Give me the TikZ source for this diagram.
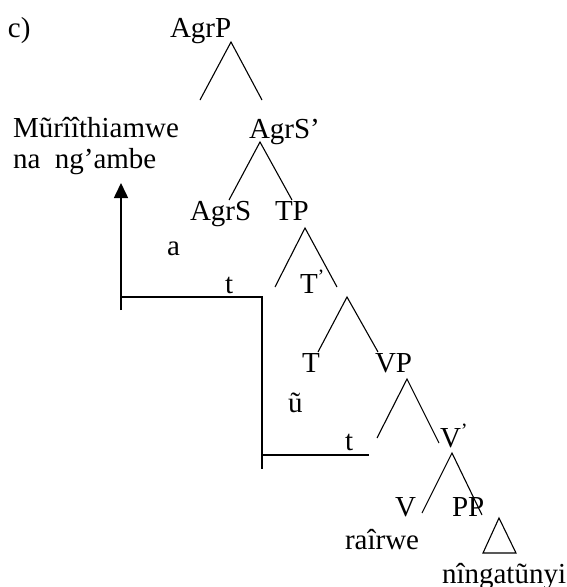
\documentclass[tikz,border=0pt]{standalone}
\usepackage{fontspec}
\setmainfont{Liberation Serif}
\usetikzlibrary{arrows.meta}
\begin{document}
\begin{tikzpicture}[x=1pt,y=-1pt,
  lbl/.style={anchor=base west,inner sep=0pt,outer sep=0pt,font=\fontsize{29}{34}\selectfont},
  branch/.style={line width=1.1pt},
  move/.style={line width=1.6pt},
  tri/.style={line width=1.1pt,line join=miter}]
\useasboundingbox (0,0) rectangle (567,587);
% labels
\node[lbl] (c) at (8,37) {c)};
\node[lbl] (agrp) at (170,37) {AgrP};
\node[lbl] (subj1) at (13,137) {Mũrîîthiamwe};
\node[lbl] (subj2) at (13,168) {na\ \ ng’ambe};
\node[lbl] (agrsbar) at (249,138) {AgrS’};
\node[lbl] (agrs) at (190,220) {AgrS};
\node[lbl] (tp) at (275,220) {TP};
\node[lbl] (a) at (167,255) {a};
\node[lbl] (t1) at (225,293) {t};
\node[lbl] (tbar) at (300,293) {T\textsuperscript{’}};
\node[lbl] (t) at (302,372) {T};
\node[lbl] (vp) at (375,372) {VP};
\node[lbl] (u) at (288,412) {ũ};
\node[lbl] (t2) at (345,450) {t};
\node[lbl] (vbar) at (440,447) {V\textsuperscript{’}};
\node[lbl] (v) at (395,516) {V};
\node[lbl] (pp) at (452,516) {PP};
\node[lbl] (verb) at (345,549) {raîrwe};
\node[lbl] (obj) at (442,583) {nîngatũnyi};
% branch coordinates
\coordinate (p0) at (231,42);
\coordinate (p0l) at (200,100);
\coordinate (p0r) at (262,100);
\coordinate (p1) at (260,142);
\coordinate (p1l) at (229,200);
\coordinate (p1r) at (292,200);
\coordinate (p2) at (305,228);
\coordinate (p2l) at (275,287);
\coordinate (p2r) at (337,287);
\coordinate (p3) at (347,297);
\coordinate (p3l) at (318,352);
\coordinate (p3r) at (378,352);
\coordinate (p4) at (407,379);
\coordinate (p4l) at (377,438);
\coordinate (p4r) at (439,443);
\coordinate (p5) at (452,453);
\coordinate (p5l) at (422,513);
\coordinate (p5r) at (482,515);
\draw[branch] (p0l) -- (p0) -- (p0r);
\draw[branch] (p1l) -- (p1) -- (p1r);
\draw[branch] (p2l) -- (p2) -- (p2r);
\draw[branch] (p3l) -- (p3) -- (p3r);
\draw[branch] (p4l) -- (p4) -- (p4r);
\draw[branch] (p5l) -- (p5) -- (p5r);
% triangle
\coordinate (ta) at (499,518);
\coordinate (tl) at (483,553);
\coordinate (tr) at (516,553);
\draw[tri] (ta) -- (tl) -- (tr) -- cycle;
% movement lines
\coordinate (m0) at (121,310);
\coordinate (m1) at (121,183);
\coordinate (m2) at (121,297);
\coordinate (m3) at (262,297);
\coordinate (m4) at (262,469);
\coordinate (m5) at (262,455);
\coordinate (m6) at (369,455);
\draw[move,-{Triangle[width=14pt,length=15pt]}] (m0) -- (m1);
\draw[move] (m2) -- (m3) -- (m4);
\draw[move] (m5) -- (m6);
\end{tikzpicture}
\end{document}
